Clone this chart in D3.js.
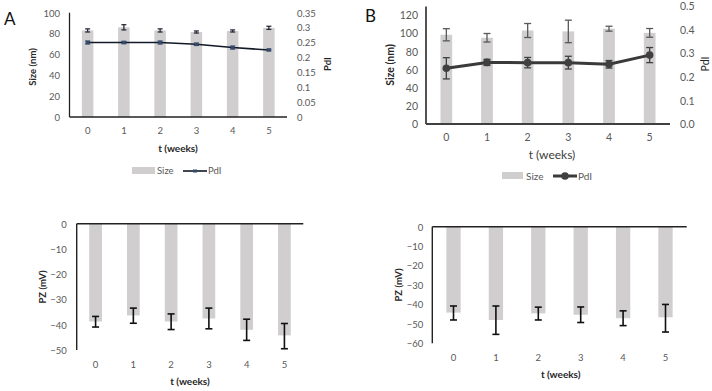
<!DOCTYPE html>
<html><head><meta charset="utf-8">
<script src="https://cdn.jsdelivr.net/npm/d3@7"></script>
<style>body{margin:0;background:#fff}svg{display:block}text{font-family:Lato,"Open Sans",sans-serif}</style>
</head><body><svg id="c" width="712" height="391"></svg>
<script>
const weeks = ["0","1","2","3","4","5"];
// Panel A
const sizeA = [83, 86, 83, 81.5, 82.5, 85.5];
const sizeAErr = [1.5, 2.5, 1.5, 1, 1, 1.5];
const pdiA = [0.25, 0.25, 0.25, 0.244, 0.233, 0.225];
const pdiAErr = [0.005, 0.004, 0.005, 0.004, 0.005, 0.003];
const sizeATicks = [0,20,40,60,80,100];
const pdiATicks = [0,0.05,0.1,0.15,0.2,0.25,0.3,0.35];
// Panel B
const sizeB = [98.3, 95, 103, 102, 105, 100.4];
const sizeBErr = [6.7, 4.7, 7.7, 12.4, 2.7, 4.8];
const pdiB = [0.236, 0.261, 0.26, 0.26, 0.253, 0.292];
const pdiBErr = [0.045, 0.013, 0.022, 0.027, 0.016, 0.032];
const sizeBTicks = [0,20,40,60,80,100,120];
const pdiBTicks = [0,0.1,0.2,0.3,0.4,0.5];
// Panel C
const pzC = [-38.7, -36.3, -38.7, -37.5, -42, -44.2];
const pzCErr = [2.1, 3, 3.1, 4.1, 4.2, 5];
const pzCCenter = [-38.8, -36.4, -38.8, -37.5, -42, -44.5];
const pzCTicks = [0,-10,-20,-30,-40,-50];
// Panel D
const pzD = [-44.2, -48, -44.6, -45.3, -47.1, -46.6];
const pzDErr = [3.6, 7.3, 3.3, 4, 3.8, 7.1];
const pzDCenter = [-44.4, -48.1, -44.7, -45.3, -47.1, -47.1];
const pzDTicks = [0,-10,-20,-30,-40,-50,-60];

const svg = d3.select("#c");
const BAR = "#d0cece", TICK = "#595959";

function band(x0, x1, bw){
  const step = (x1-x0)/6;
  const p = 1 - bw/step;
  return d3.scaleBand().domain(weeks).range([x0,x1]).paddingInner(p).paddingOuter(p/2);
}
function errBars(g, x, y, vals, errs, cap, color, w){
  weeks.forEach((k,i)=>{
    const cx = x(k)+x.bandwidth()/2;
    const y1 = y(vals[i]-errs[i]), y2 = y(vals[i]+errs[i]);
    g.append("line").attr("x1",cx).attr("x2",cx).attr("y1",y1).attr("y2",y2).attr("stroke",color).attr("stroke-width",w);
    [y1,y2].forEach(yy=>g.append("line").attr("x1",cx-cap/2).attr("x2",cx+cap/2).attr("y1",yy).attr("y2",yy).attr("stroke",color).attr("stroke-width",w));
  });
}
function yAxisLeft(g, y, ticks, xLab, fs, fmt){
  const a = g.append("g").attr("transform",`translate(${xLab},0)`)
    .call(d3.axisLeft(y).tickValues(ticks).tickSize(0).tickPadding(0).tickFormat(fmt||d3.format("d")));
  a.select(".domain").remove();
  a.selectAll("text").attr("fill",TICK).style("font-size",fs+"px").attr("dy","0.35em");
}
function yAxisRight(g, y, ticks, xLab, fs, fmt){
  const a = g.append("g").attr("transform",`translate(${xLab},0)`)
    .call(d3.axisRight(y).tickValues(ticks).tickSize(0).tickPadding(0).tickFormat(fmt));
  a.select(".domain").remove();
  a.selectAll("text").attr("fill",TICK).style("font-size",fs+"px").attr("dy","0.35em");
}
function xAxisLabels(g, x, yLab, fs){
  const a = g.append("g").attr("transform",`translate(0,${yLab})`)
    .call(d3.axisBottom(x).tickSize(0).tickPadding(0));
  a.select(".domain").remove();
  a.selectAll("text").attr("fill",TICK).style("font-size",fs+"px").attr("dy","0.35em");
}
function rotLabel(g, x, y, txt, fs, bold, color){
  g.append("text").attr("transform",`translate(${x},${y}) rotate(-90)`).attr("text-anchor","middle")
    .attr("dy","0.35em").style("font-size",fs+"px").style("font-weight",bold?"bold":"normal").attr("fill",color||"#262626").text(txt);
}
function label(g, x, y, txt, fs, bold, anchor, color){
  g.append("text").attr("x",x).attr("y",y).attr("dy","0.35em").attr("text-anchor",anchor||"middle")
    .style("font-size",fs+"px").style("font-weight",bold?"bold":"normal").attr("fill",color||"#262626").text(txt);
}

// ===== Panel A =====
(function(){
  const g = svg.append("g");
  const x = band(69.5, 287, 11.5);
  const yL = d3.scaleLinear().domain([0,100]).range([117,12.7]);
  const yR = d3.scaleLinear().domain([0,0.35]).range([117,12.7]);
  g.selectAll(".b").data(sizeA).join("rect").attr("x",(d,i)=>x(weeks[i])).attr("width",x.bandwidth())
    .attr("y",d=>yL(d)).attr("height",d=>yL(0)-yL(d)).attr("fill",BAR);
  errBars(g,x,yL,sizeA,sizeAErr,5,"#2b2b3b",1.3);
  g.append("line").attr("x1",69.5).attr("x2",69.5).attr("y1",12.7).attr("y2",117).attr("stroke","#222").attr("stroke-width",1.3);
  g.append("line").attr("x1",69.5).attr("x2",287).attr("y1",117).attr("y2",117).attr("stroke","#222").attr("stroke-width",1.3);
  const line = d3.line().x((d,i)=>x(weeks[i])+x.bandwidth()/2).y(d=>yR(d));
  g.append("path").datum(pdiA).attr("d",line).attr("fill","none").attr("stroke","#111a26").attr("stroke-width",1.6);
  errBars(g,x,yR,pdiA,pdiAErr,5,"#34496b",1.3);
  g.selectAll(".m").data(pdiA).join("rect").attr("x",(d,i)=>x(weeks[i])+x.bandwidth()/2-2).attr("y",d=>yR(d)-1.5)
    .attr("width",4).attr("height",3).attr("fill","#34496b");
  yAxisLeft(g,yL,sizeATicks,60,9.5);
  yAxisRight(g,yR,pdiATicks,297,9.5,d=>d===0?"0":String(+d.toFixed(2)).replace(/^0\./,"0."));
  xAxisLabels(g,x,131,9.5);
  rotLabel(g,33,67,"Size (nm)",9.5,true);
  rotLabel(g,328,64,"PdI",9.5,true);
  label(g,178,148,"t (weeks)",10,true);
  label(g,4,19,"A",17,false,"start","#111");
  // legend
  g.append("rect").attr("x",132).attr("y",167).attr("width",23).attr("height",7).attr("fill",BAR);
  label(g,157,171,"Size",9.5,false,"start",TICK);
  g.append("line").attr("x1",183).attr("x2",207).attr("y1",171).attr("y2",171).attr("stroke","#111a26").attr("stroke-width",1.6);
  g.append("rect").attr("x",193).attr("y",169.5).attr("width",4).attr("height",3).attr("fill","#34496b");
  label(g,208,171,"PdI",9.5,false,"start",TICK);
})();

// ===== Panel B =====
(function(){
  const g = svg.append("g");
  const x = band(426, 670, 11.7);
  const yL = d3.scaleLinear().domain([0,130]).range([124,6]);
  const yR = d3.scaleLinear().domain([0,0.5]).range([124,6]);
  g.selectAll(".b").data(sizeB).join("rect").attr("x",(d,i)=>x(weeks[i])).attr("width",x.bandwidth())
    .attr("y",d=>yL(d)).attr("height",d=>yL(0)-yL(d)).attr("fill",BAR);
  errBars(g,x,yL,sizeB,sizeBErr,7,"#595959",1.3);
  g.append("line").attr("x1",426).attr("x2",426).attr("y1",6.5).attr("y2",124).attr("stroke","#404040").attr("stroke-width",1.8);
  g.append("line").attr("x1",426).attr("x2",670).attr("y1",124).attr("y2",124).attr("stroke","#404040").attr("stroke-width",1.8);
  const line = d3.line().x((d,i)=>x(weeks[i])+x.bandwidth()/2).y(d=>yR(d));
  g.append("path").datum(pdiB).attr("d",line).attr("fill","none").attr("stroke","#3a3a3a").attr("stroke-width",3);
  errBars(g,x,yR,pdiB,pdiBErr,7,"#404040",1.3);
  g.selectAll(".m").data(pdiB).join("circle").attr("cx",(d,i)=>x(weeks[i])+x.bandwidth()/2).attr("cy",d=>yR(d))
    .attr("r",3.8).attr("fill","#404040");
  yAxisLeft(g,yL,sizeBTicks,418,10.5);
  yAxisRight(g,yR,pdiBTicks,680,10.5,d3.format(".1f"));
  xAxisLabels(g,x,137.5,10.5);
  rotLabel(g,390,65,"Size (nm)",10.5,true);
  rotLabel(g,705,64,"PdI",10.5,false);
  label(g,552,155,"t (weeks)",12,false,"middle","#404040");
  label(g,365,16,"B",17,false,"start","#111");
  // legend
  g.append("rect").attr("x",502).attr("y",172).attr("width",21).attr("height",7).attr("fill",BAR);
  label(g,526,176,"Size",10,false,"start",TICK);
  g.append("line").attr("x1",553).attr("x2",577).attr("y1",176).attr("y2",176).attr("stroke","#3a3a3a").attr("stroke-width",3);
  g.append("circle").attr("cx",565).attr("cy",176).attr("r",3.8).attr("fill","#404040");
  label(g,578,176,"PdI",10,false,"start",TICK);
})();

// ===== Panel C =====
function pzPanel(x0,x1,bw,yTop,yBot,dmin,vals,centers,errs,ticks,labX,xLabY,yTitleX,yTitleY,tX,tY,cap){
  const g = svg.append("g");
  const x = band(x0,x1,bw);
  const y = d3.scaleLinear().domain([dmin,0]).range([yBot,yTop]);
  g.selectAll(".b").data(vals).join("rect").attr("x",(d,i)=>x(weeks[i])).attr("width",x.bandwidth())
    .attr("y",y(0)).attr("height",d=>y(d)-y(0)).attr("fill",BAR);
  errBars(g,x,y,centers,errs,cap,"#111",1.6);
  g.append("line").attr("x1",x0).attr("x2",x0).attr("y1",yTop).attr("y2",yBot).attr("stroke","#222").attr("stroke-width",1.4);
  g.append("line").attr("x1",x0).attr("x2",x1).attr("y1",yTop).attr("y2",yTop).attr("stroke","#222").attr("stroke-width",1.4);
  yAxisLeft(g,y,ticks,labX,9.5);
  xAxisLabels(g,x,xLabY,9.5);
  rotLabel(g,yTitleX,yTitleY,"PZ (mV)",9.5,true);
  label(g,tX,tY,"t (weeks)",10,true);
}
pzPanel(76.7,303.3,12.7,223.8,350,-50,pzC,pzCCenter,pzCErr,pzCTicks,66.7,364.5,43,287,190,381.5,7);
pzPanel(432.3,686.7,14.3,226.7,343.3,-60,pzD,pzDCenter,pzDErr,pzDTicks,423.3,358,398.3,285,560.7,374,7);
</script></body></html>
